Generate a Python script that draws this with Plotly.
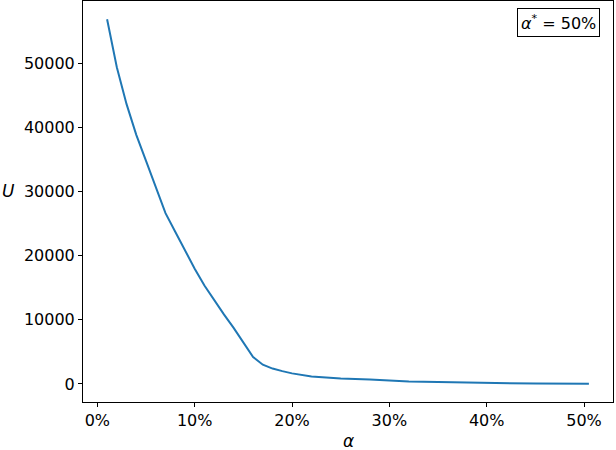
import plotly.graph_objects as go

# alpha (fraction) and U values
alpha = [0.01, 0.02, 0.03, 0.04, 0.05, 0.06, 0.07, 0.08, 0.09, 0.10,
         0.11, 0.12, 0.13, 0.14, 0.15, 0.16, 0.17, 0.18, 0.19, 0.20,
         0.22, 0.25, 0.28, 0.29, 0.30, 0.32, 0.35, 0.38, 0.40, 0.42,
         0.45, 0.505]
U = [56900, 49400, 43650, 38870, 34800, 30800, 26650, 23750, 20850, 17980,
     15350, 13000, 10850, 8750, 6480, 4200, 3000, 2400, 2000, 1650,
     1150, 850, 680, 620, 480, 380, 300, 220, 130, 80,
     60, 30]

x_ticks = [0, 0.1, 0.2, 0.3, 0.4, 0.5]
y_ticks = [0, 10000, 20000, 30000, 40000, 50000]
annot_text = "<i>α</i><sup>*</sup> = 50%"

FONT = "DejaVu Sans"
W, H = 616, 450
L, R, T, B = 83, 3, 1, 48
pw, ph = W - L - R, H - T - B

def pad(lo, hi, m=0.05):
    s = hi - lo
    return [lo - m * s, hi + m * s]

fig = go.Figure()
fig.add_trace(go.Scatter(x=alpha, y=U, mode="lines",
                         line=dict(color="#1f77b4", width=2),
                         showlegend=False, hoverinfo="skip"))

axis_common = dict(showline=True, linecolor="black", linewidth=1, mirror=True,
                   ticks="outside", ticklen=4, tickwidth=1, tickcolor="black",
                   showgrid=False, zeroline=False, automargin=False,
                   tickfont=dict(family=FONT, size=16, color="black"))

fig.update_xaxes(range=pad(min(alpha), max(alpha)), tickvals=x_ticks,
                 tickformat=".0%", **axis_common)
fig.update_yaxes(range=pad(min(U), max(U)), tickvals=y_ticks,
                 tickformat="d", **axis_common)

fig.add_annotation(xref="paper", yref="paper", x=(8 - L) / pw,
                   y=1 - (191 - T) / ph, text="<i>U</i>", showarrow=False,
                   xanchor="center", yanchor="middle",
                   font=dict(family=FONT, size=17, color="black"))
fig.add_annotation(xref="paper", yref="paper", x=0.5,
                   y=-(441 - (T + ph)) / ph, text="<i>α</i>", showarrow=False,
                   xanchor="center", yanchor="middle",
                   font=dict(family=FONT, size=17, color="black"))
fig.add_annotation(xref="paper", yref="paper", x=(600 - L) / pw,
                   y=1 - (8 - T) / ph, text=annot_text, showarrow=False,
                   xanchor="right", yanchor="top",
                   bordercolor="black", borderwidth=1, borderpad=3,
                   bgcolor="white",
                   font=dict(family=FONT, size=16, color="black"))

fig.update_layout(width=W, height=H, margin=dict(l=L, r=R, t=T, b=B, autoexpand=False),
                  paper_bgcolor="white", plot_bgcolor="white",
                  font=dict(family=FONT, size=16, color="black"))

fig.write_html("out.html", config={"displayModeBar": False},
               post_script="document.body.style.margin='0';document.body.style.overflow='hidden';")
